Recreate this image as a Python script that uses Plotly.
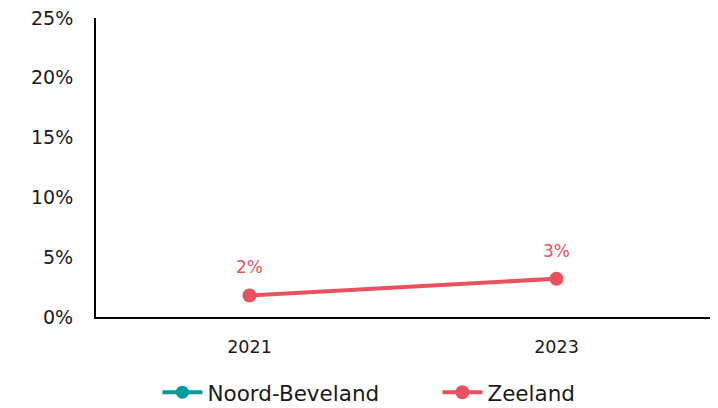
import plotly.graph_objects as go

years = ["2021", "2023"]
noord_beveland = [None, None]
zeeland = [0.018, 0.032]
zeeland_labels = ["2%", "3%"]

teal = "#009B9A"
red = "#E8525F"
font = "DejaVu Sans"
ink = "#1a1a1a"

fig = go.Figure()
fig.add_trace(go.Scatter(x=years, y=noord_beveland, name="Noord-Beveland", mode="lines+markers",
                         line=dict(color=teal, width=4), marker=dict(size=13, color=teal)))
fig.add_trace(go.Scatter(x=years, y=zeeland, name="Zeeland", mode="lines+markers",
                         line=dict(color=red, width=4), marker=dict(size=14, color=red)))

for i, (y, t) in enumerate(zip(zeeland, zeeland_labels)):
    fig.add_annotation(x=i, y=y, xref="x", yref="y", text=t, showarrow=False, yshift=28,
                       font=dict(color=red, size=17, family=font))

fig.update_layout(
    width=710, height=400,
    margin=dict(l=88, r=8, t=10, b=91, autoexpand=False),
    paper_bgcolor="white", plot_bgcolor="white",
    font=dict(family=font, color=ink),
    showlegend=True,
    legend=dict(orientation="h", x=0.1, xanchor="left", y=-0.183, yanchor="top",
                font=dict(size=21.5, family=font, color=ink), itemwidth=40,
                entrywidth=225, entrywidthmode="pixels"),
    xaxis=dict(type="category", range=[-0.5, 1.5], showline=True, linecolor="black", linewidth=2,
               showgrid=False, ticks="", ticklabelstandoff=13,
               tickfont=dict(size=17.5, family=font, color=ink)),
    yaxis=dict(range=[0, 0.25], dtick=0.05, tickformat=".0%", showline=True, linecolor="black",
               linewidth=2, showgrid=False, zeroline=False, ticks="", ticklabelstandoff=17,
               ticklabeloverflow="allow",
               tickfont=dict(size=19, family=font, color=ink)),
)

fig.write_html("out.html")
